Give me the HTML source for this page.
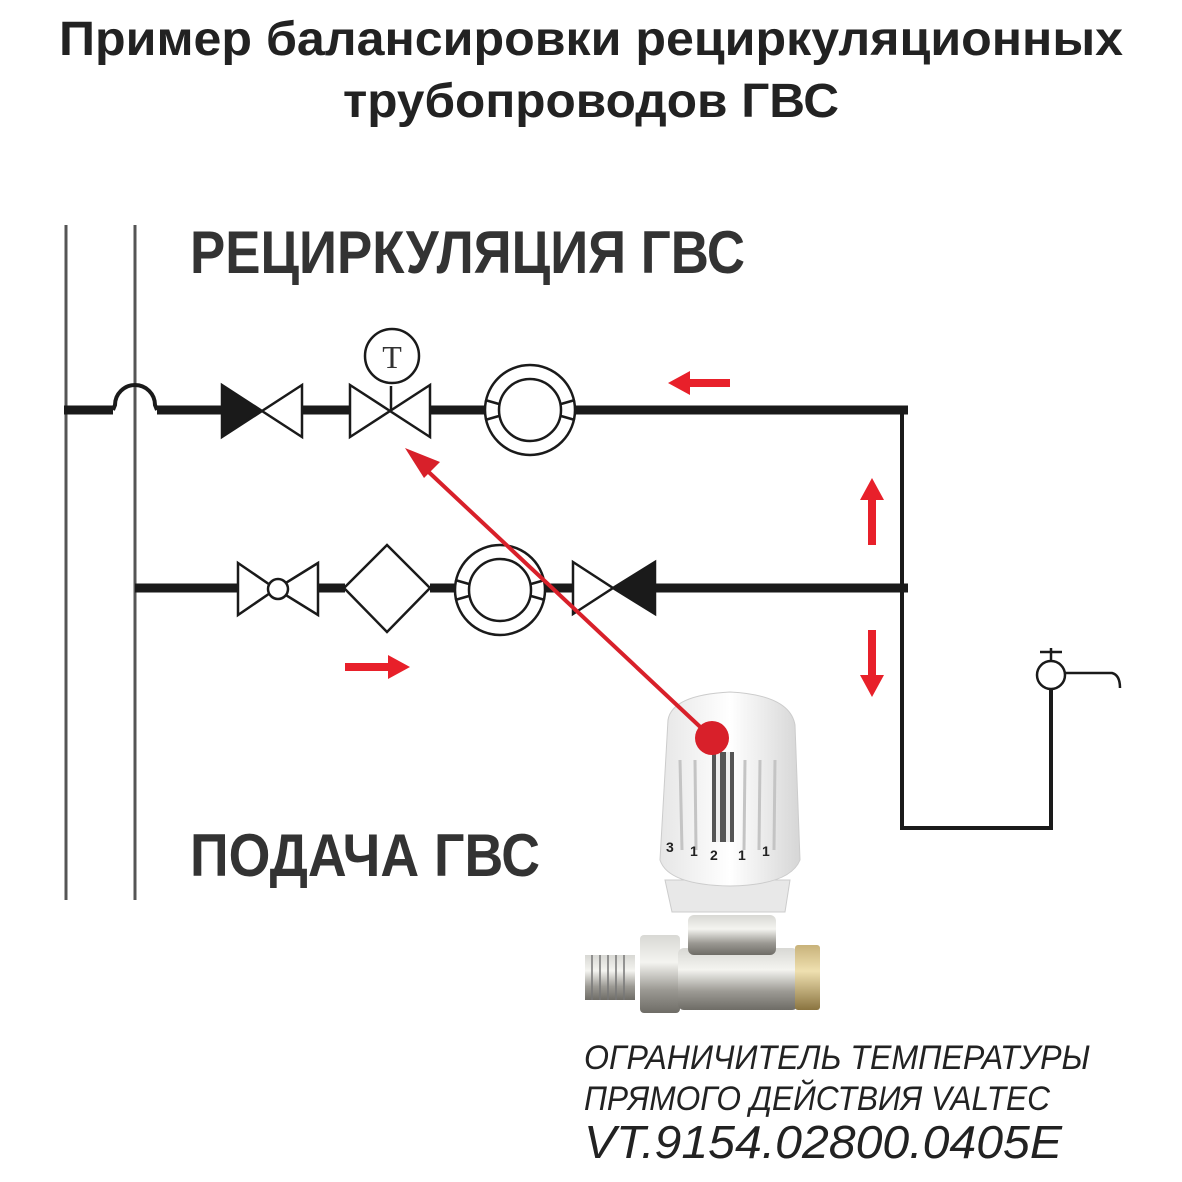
<!DOCTYPE html>
<html><head><meta charset="utf-8"><style>
html,body{margin:0;padding:0;background:#fff;}
svg{display:block;}
</style></head><body>
<svg width="1182" height="1182" viewBox="0 0 1182 1182" xmlns="http://www.w3.org/2000/svg">
<defs>
<linearGradient id="metal" x1="0" y1="0" x2="0" y2="1">
<stop offset="0" stop-color="#d8d8d4"/><stop offset="0.35" stop-color="#f4f4f0"/><stop offset="0.7" stop-color="#9c9a94"/><stop offset="1" stop-color="#6e6c66"/></linearGradient>
<linearGradient id="brass" x1="0" y1="0" x2="0" y2="1">
<stop offset="0" stop-color="#c8b27a"/><stop offset="0.4" stop-color="#efe0b0"/><stop offset="1" stop-color="#8a7440"/></linearGradient>
<linearGradient id="head" x1="0" y1="0" x2="1" y2="0">
<stop offset="0" stop-color="#e6e6e6"/><stop offset="0.5" stop-color="#ffffff"/><stop offset="1" stop-color="#d6d6d6"/></linearGradient>
</defs>
<g font-family="Liberation Sans, sans-serif" font-weight="bold" fill="#222">
<text x="591" y="55" font-size="48" text-anchor="middle" textLength="1064" lengthAdjust="spacingAndGlyphs">Пример балансировки рециркуляционных</text>
<text x="591" y="117" font-size="48" text-anchor="middle" textLength="496" lengthAdjust="spacingAndGlyphs">трубопроводов ГВС</text>
</g>
<g font-family="Liberation Sans, sans-serif" font-weight="bold" fill="#333">
<text x="190" y="273" font-size="60" textLength="555" lengthAdjust="spacingAndGlyphs">РЕЦИРКУЛЯЦИЯ ГВС</text>
<text x="190" y="876" font-size="60" textLength="350" lengthAdjust="spacingAndGlyphs">ПОДАЧА ГВС</text>
</g>
<!-- risers -->
<line x1="66" y1="225" x2="66" y2="900" stroke="#555" stroke-width="3"/>
<line x1="135" y1="225" x2="135" y2="900" stroke="#555" stroke-width="3"/>
<!-- top pipe -->
<g stroke="#1a1a1a" fill="none">
<line x1="64" y1="410" x2="113" y2="410" stroke-width="9"/>
<path d="M113 410 L115 405 A20 20 0 0 1 155 405 L157 410" stroke-width="4"/>
<line x1="157" y1="410" x2="222" y2="410" stroke-width="9"/>
<line x1="302" y1="410" x2="350" y2="410" stroke-width="9"/>
<line x1="430" y1="410" x2="485" y2="410" stroke-width="9"/>
<line x1="576" y1="410" x2="908" y2="410" stroke-width="9"/>
<line x1="902" y1="406" x2="902" y2="830" stroke-width="4"/>
<line x1="902" y1="828" x2="1051" y2="828" stroke-width="4"/>
<line x1="1051" y1="830" x2="1051" y2="690" stroke-width="4"/>
<!-- bottom pipe -->
<line x1="135" y1="588" x2="238" y2="588" stroke-width="9"/>
<line x1="318" y1="588" x2="345" y2="588" stroke-width="9"/>
<line x1="430" y1="588" x2="455" y2="588" stroke-width="9"/>
<line x1="545" y1="588" x2="573" y2="588" stroke-width="9"/>
<line x1="655" y1="588" x2="908" y2="588" stroke-width="9"/>
</g>
<g stroke="#1a1a1a" stroke-width="2.5" fill="#fff">
<!-- check valve top -->
<polygon points="222,385 262,411 222,437" fill="#1a1a1a"/>
<polygon points="302,385 262,411 302,437"/>
<!-- thermostatic valve -->
<polygon points="350,385 390,411 350,437"/>
<polygon points="430,385 390,411 430,437"/>
<line x1="391" y1="386" x2="391" y2="411"/>
<circle cx="392" cy="356" r="27"/>
<!-- pump top -->
<circle cx="530" cy="410" r="45"/>
<circle cx="530" cy="410" r="31"/>
<path d="M499 404 L485 400 M499 416 L485 420 M561 404 L575 400 M561 416 L575 420" fill="none"/>
<!-- ball valve bottom -->
<polygon points="238,563 276,589 238,615"/>
<polygon points="318,563 276,589 318,615"/>
<circle cx="278" cy="589" r="10"/>
<!-- filter -->
<polygon points="387,545 430,588 387,632 344,588"/>
<!-- pump bottom -->
<circle cx="500" cy="590" r="45"/>
<circle cx="500" cy="590" r="31"/>
<path d="M469 584 L455 580 M469 596 L455 600 M531 584 L545 580 M531 596 L545 600" fill="none"/>
<!-- check valve bottom -->
<polygon points="573,562 613,588 573,614"/>
<polygon points="655,562 613,588 655,614" fill="#1a1a1a"/>
<!-- faucet -->
<circle cx="1051" cy="675" r="14"/>
<path d="M1051 661 L1051 648 M1040 652 L1062 652 M1065 673 L1112 673 Q1120 675 1120 688" fill="none"/>
</g>
<text x="392" y="368" font-family="Liberation Serif, serif" font-size="32" fill="#333" text-anchor="middle">T</text>
<!-- red flow arrows -->
<g fill="#e8202a">
<polygon points="668,383 690,371 690,379 730,379 730,387 690,387 690,395"/>
<polygon points="410,667 388,655 388,663 345,663 345,671 388,671 388,679"/>
<polygon points="872,478 860,500 868,500 868,545 876,545 876,500 884,500"/>
<polygon points="872,697 860,675 868,675 868,630 876,630 876,675 884,675"/>
</g>
<!-- valve photo -->
<g>
<rect x="585" y="955" width="50" height="45" fill="url(#metal)"/>
<g stroke="#777" stroke-width="1.5"><line x1="592" y1="955" x2="592" y2="1000"/><line x1="600" y1="955" x2="600" y2="1000"/><line x1="608" y1="955" x2="608" y2="1000"/><line x1="616" y1="955" x2="616" y2="1000"/><line x1="624" y1="955" x2="624" y2="1000"/></g>
<rect x="640" y="935" width="40" height="78" rx="4" fill="url(#metal)"/>
<rect x="678" y="948" width="120" height="62" rx="6" fill="url(#metal)"/>
<rect x="795" y="945" width="25" height="65" rx="3" fill="url(#brass)"/>
<rect x="688" y="915" width="88" height="40" rx="6" fill="url(#metal)"/>
<path d="M665 880 L790 880 L785 912 L672 912 Z" fill="#e8e8e8" stroke="#ccc"/>
<path d="M668 720 Q672 695 730 692 Q790 695 795 725 L800 860 Q790 885 730 886 Q668 885 660 860 Z" fill="url(#head)" stroke="#ccc"/>
<g stroke="#c4c4c4" stroke-width="3"><line x1="680" y1="760" x2="682" y2="850"/><line x1="695" y1="760" x2="696" y2="850"/><line x1="745" y1="760" x2="744" y2="850"/><line x1="760" y1="760" x2="759" y2="850"/><line x1="775" y1="760" x2="774" y2="850"/></g>
<rect x="712" y="752" width="22" height="90" fill="#555"/>
<g stroke="#eee" stroke-width="4"><line x1="718" y1="752" x2="718" y2="842"/><line x1="728" y1="752" x2="728" y2="842"/></g>
<g font-family="Liberation Sans, sans-serif" font-size="14" fill="#222" font-weight="bold"><text x="666" y="852">3</text><text x="690" y="856">1</text><text x="710" y="860">2</text><text x="738" y="860">1</text><text x="762" y="856">1</text></g>
</g>
<!-- red pointer -->
<line x1="712" y1="738" x2="418" y2="462" stroke="#d8202a" stroke-width="4"/>
<polygon points="405,448 440,462 424,478" fill="#d8202a"/>
<circle cx="712" cy="738" r="17" fill="#d8202a"/>
<!-- caption -->
<g font-family="Liberation Sans, sans-serif" font-style="italic" fill="#222">
<text x="584" y="1069" font-size="34" textLength="506" lengthAdjust="spacingAndGlyphs">ОГРАНИЧИТЕЛЬ ТЕМПЕРАТУРЫ</text>
<text x="584" y="1110" font-size="34" textLength="466" lengthAdjust="spacingAndGlyphs">ПРЯМОГО ДЕЙСТВИЯ VALTEC</text>
<text x="584" y="1158" font-size="46" textLength="478" lengthAdjust="spacingAndGlyphs">VT.9154.02800.0405E</text>
</g>
</svg>
</body></html>
